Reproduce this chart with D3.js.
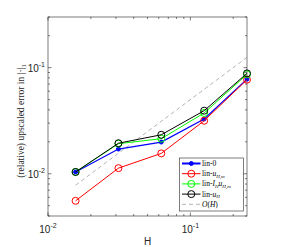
<!DOCTYPE html>
<html>
<head>
<meta charset="utf-8">
<script src="https://cdn.jsdelivr.net/npm/d3@7"></script>
<style>
body { margin: 0; background: #fff; }
svg { display: block; }
</style>
</head>
<body>
<svg width="281" height="247"></svg>
<script>
// mesh sizes
var H = [1/64, 1/32, 1/16, 1/8, 1/4];
// errors
var lin0   = [0.0104, 0.0171, 0.0199, 0.0328, 0.078];
var linUHm = [0.00556, 0.0113, 0.01556, 0.0316, 0.077];
var linIH  = [0.0104, 0.0192, 0.0214, 0.0374, 0.0865];
var linUH  = [0.0104, 0.0194, 0.0233, 0.0393, 0.0883];
var refOH  = [0.0078, 0.125];
var refH   = [1/64, 1/4];

var xTicks = [0.01, 0.1];
var yTicks = [0.01, 0.1];

var svg = d3.select('svg');
var L = 48, R = 247, T = 17, B = 216;

var x = d3.scaleLog().domain([0.01, 0.25]).range([L, R]);
var y = d3.scaleLog().domain([0.004, 0.3]).range([B, T]);

// axes box
svg.append('rect')
    .attr('x', L).attr('y', T)
    .attr('width', R - L).attr('height', B - T)
    .attr('fill', '#fff')
    .attr('stroke', '#262626')
    .attr('stroke-width', 0.6);

// minor + major ticks on all sides
function logTicks(dom) {
    var out = [];
    for (var e = -3; e <= 0; e++) {
        for (var m = 1; m < 10; m++) {
            var v = m * Math.pow(10, e);
            if (v >= dom[0] * 0.999 && v <= dom[1] * 1.001) out.push({v: v, major: m == 1});
        }
    }
    return out;
}
var tg = svg.append('g').attr('stroke', '#262626').attr('stroke-width', 0.6);
logTicks(x.domain()).forEach(function(t) {
    var len = t.major ? 3.5 : 2;
    var px = x(t.v);
    tg.append('line').attr('x1', px).attr('x2', px).attr('y1', B).attr('y2', B - len);
    tg.append('line').attr('x1', px).attr('x2', px).attr('y1', T).attr('y2', T + len);
});
logTicks(y.domain()).forEach(function(t) {
    var len = t.major ? 3.5 : 2;
    var py = y(t.v);
    tg.append('line').attr('y1', py).attr('y2', py).attr('x1', L).attr('x2', L + len);
    tg.append('line').attr('y1', py).attr('y2', py).attr('x1', R).attr('x2', R - len);
});

// tick labels
function powLabel(g, v) {
    var e = Math.round(Math.log10(v));
    g.append('tspan').text('10');
    g.append('tspan').attr('dy', -5).attr('font-size', 7).text('-' + Math.abs(e));
}
xTicks.forEach(function(v) {
    var t = svg.append('text')
        .attr('x', x(v)).attr('y', B + 17)
        .attr('text-anchor', 'middle')
        .attr('font-family', 'Liberation Sans, Arial, sans-serif')
        .attr('font-size', 10).attr('fill', '#262626');
    powLabel(t, v);
});
yTicks.forEach(function(v) {
    var t = svg.append('text')
        .attr('x', L - 3).attr('y', y(v) + 4)
        .attr('text-anchor', 'end')
        .attr('font-family', 'Liberation Sans, Arial, sans-serif')
        .attr('font-size', 10).attr('fill', '#262626');
    powLabel(t, v);
});

// axis labels
svg.append('text')
    .attr('x', (L + R) / 2).attr('y', 245)
    .attr('text-anchor', 'middle')
    .attr('font-family', 'Liberation Sans, Arial, sans-serif')
    .attr('font-size', 10).attr('fill', '#262626')
    .text('H');

var yl = svg.append('text')
    .attr('transform', 'translate(24,' + 121 + ') rotate(-90)')
    .attr('text-anchor', 'middle')
    .attr('font-family', 'Liberation Serif, Times New Roman, serif')
    .attr('font-size', 9.5).attr('fill', '#262626');
yl.append('tspan').text('(relative) upscaled error in |\u00b7|');
yl.append('tspan').attr('dy', 2).attr('font-size', 6.5).text('1');

// reference O(H)
var line = d3.line().x(function(d) { return x(d[0]); }).y(function(d) { return y(d[1]); });
svg.append('path')
    .attr('d', line(d3.zip(refH, refOH)))
    .attr('fill', 'none').attr('stroke', '#7f7f7f')
    .attr('stroke-width', 0.6).attr('stroke-dasharray', '4,3');

var series = [
    {name: 'lin-0', vals: lin0, color: '#0000ff', dot: true, w: 1.2},
    {name: 'lin-uHm', vals: linUHm, color: '#ff0000', dot: false, w: 1},
    {name: 'lin-IHuHm', vals: linIH, color: '#00ff00', dot: false, w: 1},
    {name: 'lin-uH', vals: linUH, color: '#000000', dot: false, w: 1}
];

series.forEach(function(s) {
    var pts = d3.zip(H, s.vals);
    svg.append('path')
        .attr('d', line(pts))
        .attr('fill', 'none').attr('stroke', s.color).attr('stroke-width', s.w);
    pts.forEach(function(p) {
        svg.append('circle')
            .attr('cx', x(p[0])).attr('cy', y(p[1]))
            .attr('r', s.dot ? 2 : 3.5)
            .attr('fill', s.dot ? s.color : 'none')
            .attr('stroke', s.color).attr('stroke-width', 1);
    });
});

// legend
var lg = svg.append('g');
lg.append('rect')
    .attr('x', 179.5).attr('y', 158).attr('width', 64).attr('height', 53)
    .attr('fill', '#fff').attr('stroke', '#262626').attr('stroke-width', 0.6);

var legY = [163.5, 173.7, 183.9, 194.1, 204.3];
var legItems = series.concat([{name: 'OH', color: '#7f7f7f', dash: true}]);
legItems.forEach(function(s, i) {
    var yy = legY[i];
    lg.append('line')
        .attr('x1', 182).attr('x2', 200.5).attr('y1', yy).attr('y2', yy)
        .attr('stroke', s.color)
        .attr('stroke-width', s.dash ? 0.6 : (s.name == 'lin-0' ? 2 : 1))
        .attr('stroke-dasharray', s.dash ? '4,3' : null);
    if (!s.dash) {
        lg.append('circle')
            .attr('cx', 191.3).attr('cy', yy)
            .attr('r', s.dot ? 2 : 3.5)
            .attr('fill', s.dot ? s.color : 'none')
            .attr('stroke', s.color).attr('stroke-width', 1);
    }
    var t = lg.append('text')
        .attr('x', 202).attr('y', yy + 2.5)
        .attr('font-family', 'Liberation Serif, Times New Roman, serif')
        .attr('font-size', 7.5).attr('fill', '#000');
    if (s.name == 'lin-0') {
        t.text('lin-0');
    } else if (s.name == 'lin-uHm') {
        t.append('tspan').text('lin-');
        t.append('tspan').attr('font-style', 'italic').text('u');
        t.append('tspan').attr('font-style', 'italic').attr('font-size', 5).attr('dy', 1.5).text('H,m');
    } else if (s.name == 'lin-IHuHm') {
        t.append('tspan').text('lin-');
        t.append('tspan').attr('font-style', 'italic').text('I');
        t.append('tspan').attr('font-style', 'italic').attr('font-size', 5).attr('dy', 1.5).text('H');
        t.append('tspan').attr('font-style', 'italic').attr('dy', -1.5).text('u');
        t.append('tspan').attr('font-style', 'italic').attr('font-size', 5).attr('dy', 1.5).text('H,m');
    } else if (s.name == 'lin-uH') {
        t.append('tspan').text('lin-');
        t.append('tspan').attr('font-style', 'italic').text('u');
        t.append('tspan').attr('font-style', 'italic').attr('font-size', 5).attr('dy', 1.5).text('H');
    } else {
        t.append('tspan').attr('font-style', 'italic').text('O');
        t.append('tspan').text('(');
        t.append('tspan').attr('font-style', 'italic').text('H');
        t.append('tspan').text(')');
    }
});
</script>
</body>
</html>
